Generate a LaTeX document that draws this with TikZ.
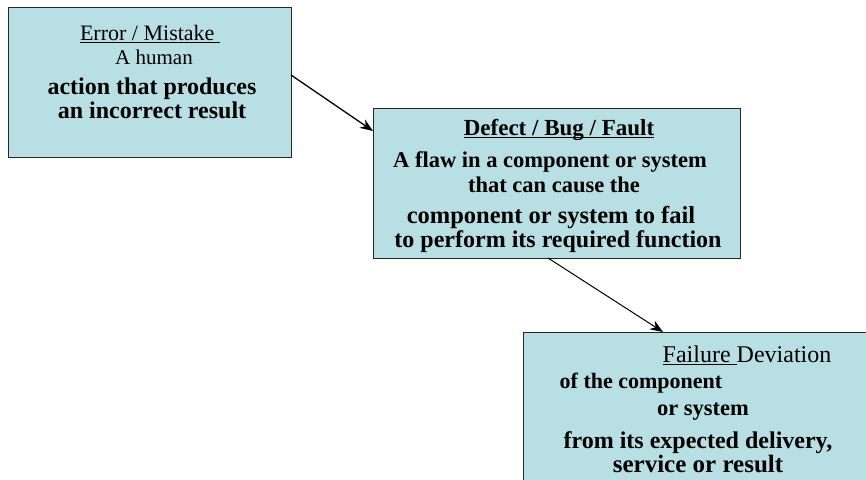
\documentclass[tikz,border=0pt]{standalone}
\usepackage{fontspec}
\setmainfont{Liberation Serif}
\usetikzlibrary{arrows.meta}
\definecolor{boxfill}{RGB}{184,223,227}
\tikzset{
  box/.style={draw=black!85, line width=1.2pt, fill=boxfill, anchor=north west, inner sep=0pt},
  txt/.style={inner sep=0pt, anchor=base},
  conn/.style={-{Stealth[length=13pt,width=10pt]}, line width=1.3pt},
}
\newcommand{\fsz}[1]{\fontsize{#1}{#1}\selectfont}
\newcommand{\ulin}[1]{\setbox0\hbox{#1}\rlap{\rule[-3.2pt]{\wd0}{1.6pt}}\box0}
\begin{document}
\begin{tikzpicture}[x=1pt,y=-1pt]
\useasboundingbox (0,0) rectangle (866,479);
\clip (0,0) rectangle (866,479);
\fill[white] (0,0) rectangle (866,479);

% boxes
\node[box, minimum width=283pt, minimum height=150pt] (b1) at (8,7) {};
\node[box, minimum width=367pt, minimum height=150pt] (b2) at (373,108) {};
\node[box, minimum width=360pt, minimum height=170pt] (b3) at (523,332) {};

% box 1 text
\node[txt] (t11) at (150,40) {\fsz{22}\ulin{Error / Mistake~}};
\node[txt] (t12) at (154,64) {\fsz{21}A human};
\node[txt] (t13) at (152,94) {\fsz{24}\bfseries action that produces};
\node[txt] (t14) at (152,118) {\fsz{24}\bfseries an incorrect result};

% box 2 text
\node[txt] (t21) at (559,135) {\fsz{23}\bfseries\ulin{Defect / Bug / Fault}};
\node[txt] (t22) at (550,167) {\fsz{22.5}\bfseries A flaw in a component or system};
\node[txt] (t23) at (554,192) {\fsz{22.5}\bfseries that can cause the};
\node[txt] (t24) at (551,223) {\fsz{24.5}\bfseries component or system to fail};
\node[txt] (t25) at (558,247) {\fsz{24}\bfseries to perform its required function};

% box 3 text
\node[txt] (t31) at (747,362) {\fsz{24}\ulin{Failure~}Deviation};
\node[txt] (t32) at (641,388) {\fsz{22}\bfseries of the component};
\node[txt] (t33) at (703,415) {\fsz{22.5}\bfseries or system};
\node[txt] (t34) at (698,448) {\fsz{24}\bfseries from its expected delivery,};
\node[txt] (t35) at (698,472) {\fsz{25}\bfseries service or result};

% connectors
\coordinate (a1s) at (291,75);
\coordinate (a1e) at (373,131);
\coordinate (a2s) at (548,258);
\coordinate (a2e) at (663,332);
\draw[conn] (a1s) -- (a1e);
\draw[conn, line width=1pt] (a2s) -- (a2e);
\end{tikzpicture}
\end{document}
